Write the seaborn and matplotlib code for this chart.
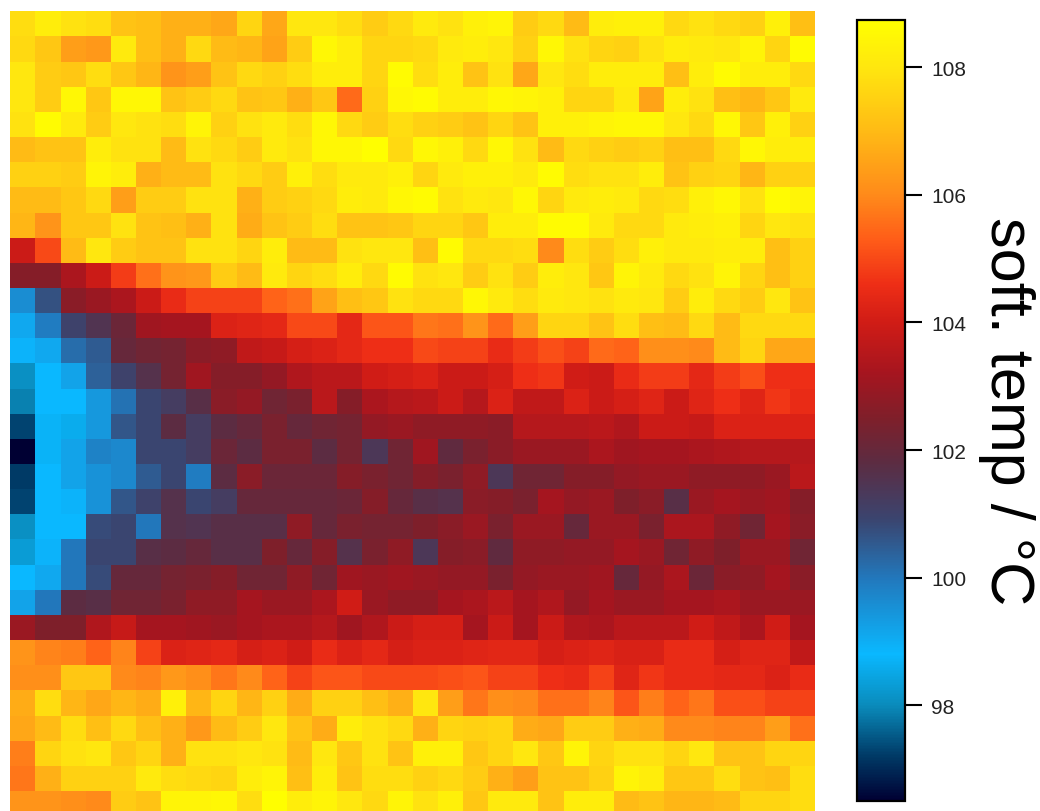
import numpy as np
import seaborn as sns
import matplotlib
matplotlib.use("Agg")
import matplotlib.pyplot as plt
from matplotlib.colors import LinearSegmentedColormap

# soft. temp readings, top row first
row_00 = [107.8,108.2,107.9,107.8,107.2,107.1,106.8,106.8,106.6,107.6,106.6,108.0,108.0,107.8,107.4,107.7,108.1,107.9,108.3,108.4,107.4,107.7,107.0,108.2,108.3,108.3,107.7,107.9,107.7,107.5,108.3,107.1]
row_01 = [107.7,107.3,106.4,106.3,108.1,107.1,106.8,107.7,107.0,106.9,106.5,107.4,108.5,108.2,107.6,107.6,107.7,108.1,108.2,108.0,107.5,108.5,107.9,107.6,107.5,107.9,108.2,108.1,108.0,108.4,107.6,108.6]
row_02 = [108.0,107.4,107.3,107.8,107.3,106.9,106.2,106.4,107.2,107.7,107.5,107.8,108.2,108.2,107.6,108.6,107.8,108.2,107.2,107.9,106.6,108.0,107.8,108.2,108.2,108.2,107.1,108.2,108.6,108.2,108.2,107.7]
row_03 = [108.0,107.4,108.5,107.3,108.5,108.5,107.2,107.4,107.7,107.2,107.3,106.8,107.3,105.5,107.5,108.5,108.6,108.2,108.2,108.5,108.4,108.3,107.6,107.6,108.1,106.5,108.2,107.9,107.1,106.9,107.3,108.1]
row_04 = [107.9,108.6,108.1,107.4,108.0,107.9,107.8,108.4,107.5,107.9,108.1,107.8,108.5,107.7,107.4,107.8,107.5,107.4,107.2,107.6,107.2,108.3,108.3,108.4,108.5,108.5,108.0,107.7,108.5,107.3,108.3,107.5]
row_05 = [107.0,107.2,107.2,108.2,107.9,107.9,107.0,107.9,107.7,107.4,108.1,107.9,108.5,108.5,108.7,107.7,108.5,108.3,107.7,108.5,107.9,107.0,107.7,107.5,107.4,107.5,107.1,107.1,107.7,108.5,108.2,108.2]
row_06 = [107.5,107.5,107.4,108.4,108.2,106.8,107.0,107.0,107.9,107.7,107.4,108.3,107.8,108.1,108.1,108.3,107.6,108.1,108.3,108.3,108.1,108.6,107.8,107.9,107.9,108.2,107.2,107.5,107.6,106.9,107.5,107.5]
row_07 = [107.0,107.0,107.3,107.7,106.4,107.4,107.4,107.9,107.9,106.8,107.4,107.5,107.7,108.2,108.1,108.5,108.6,107.9,108.1,108.0,108.5,107.6,108.1,108.2,108.1,107.7,107.8,108.3,108.5,107.9,108.6,108.4]
row_08 = [106.9,106.2,107.3,107.3,107.9,107.2,107.1,106.8,107.9,106.7,107.2,107.4,107.8,107.2,107.2,107.3,107.6,107.6,107.3,108.2,108.2,108.6,108.6,108.1,107.7,107.7,108.1,108.2,108.3,107.6,108.0,107.9]
row_09 = [103.9,105.0,107.0,108.0,107.4,107.2,107.2,107.9,107.9,107.6,108.2,107.0,107.0,107.9,108.0,108.0,107.1,108.6,107.7,107.7,107.8,106.0,107.8,107.4,107.8,108.3,108.1,108.1,108.2,108.2,107.1,107.5]
row_10 = [102.6,102.6,103.3,103.9,104.8,105.6,106.2,106.3,107.4,107.0,108.1,107.6,107.8,108.2,107.7,108.6,107.9,108.0,107.4,107.9,107.4,108.2,108.0,107.3,108.4,108.1,107.7,107.9,108.4,107.6,107.1,107.5]
row_11 = [99.6,100.7,102.7,103.0,103.3,103.9,104.5,104.9,104.9,104.9,105.4,105.6,106.5,107.1,107.3,107.9,107.7,107.7,108.5,108.1,107.8,108.1,108.0,107.9,108.1,108.0,107.4,108.2,107.7,107.4,108.0,107.2]
row_12 = [99.1,99.9,101.0,101.5,102.1,103.1,103.2,103.2,104.2,104.3,104.4,105.0,105.0,104.4,105.2,105.2,105.7,105.6,106.2,105.5,106.4,107.6,107.6,107.2,107.8,107.1,107.0,107.7,107.0,107.7,107.7,107.7]
row_13 = [98.9,99.1,100.2,100.5,102.0,102.2,102.3,102.7,102.8,103.7,103.8,104.1,104.2,104.4,104.6,104.6,105.0,104.9,104.9,104.5,104.8,105.1,104.9,105.5,105.4,106.1,106.1,106.0,107.0,107.6,106.6,106.6]
row_14 = [98.1,98.8,99.2,100.4,101.0,101.6,102.3,103.1,102.6,102.6,102.9,103.4,103.6,103.6,104.0,104.1,104.2,103.9,103.9,104.1,104.6,104.7,104.0,103.9,104.5,104.8,104.8,104.4,104.8,105.1,104.6,104.6]
row_15 = [97.9,98.8,98.8,99.4,100.1,100.9,101.2,101.7,102.7,102.9,102.2,102.4,103.6,102.6,103.3,103.5,103.6,103.9,103.5,104.2,103.7,103.7,104.2,103.9,104.1,104.3,103.9,104.3,104.6,104.3,104.7,104.5]
row_16 = [97.3,98.7,98.6,99.4,100.6,100.9,101.8,101.2,101.8,102.0,102.4,102.0,102.2,102.3,102.9,103.0,102.8,102.8,102.8,102.7,103.5,103.5,103.5,103.6,103.4,103.9,103.9,103.8,104.2,104.2,104.2,104.2]
row_17 = [96.5,98.7,99.2,99.8,99.7,100.9,100.9,101.2,102.1,101.8,102.4,102.4,101.8,102.3,101.4,102.2,103.1,101.9,102.4,102.7,103.0,103.0,103.0,103.3,103.1,103.2,103.2,103.3,103.4,103.5,103.5,103.5]
row_18 = [97.2,98.8,99.2,99.5,99.7,100.5,100.9,99.9,101.8,102.7,102.1,102.1,102.1,102.6,102.4,102.2,102.6,102.4,102.8,101.4,102.2,102.2,102.6,102.6,102.9,103.0,103.0,102.8,102.8,102.8,103.0,103.6]
row_19 = [97.3,98.8,98.9,99.5,100.6,101.0,101.6,100.9,101.2,102.0,102.0,102.0,102.0,102.1,102.6,102.0,101.7,101.6,102.7,102.6,102.4,103.2,102.9,103.0,102.5,102.7,101.7,103.0,103.2,103.0,103.1,102.6]
row_20 = [98.1,98.8,98.8,100.8,100.9,100.0,101.6,101.5,101.7,101.7,101.7,102.8,102.0,102.4,102.3,102.3,102.5,102.7,103.0,102.4,103.0,103.0,102.0,103.0,103.0,102.4,103.3,103.3,102.8,102.2,103.2,102.7]
row_21 = [98.3,98.9,100.0,100.9,100.9,101.7,101.8,102.0,101.7,101.7,102.5,102.0,102.6,101.6,102.4,102.8,101.4,102.6,102.7,101.9,102.8,102.8,102.9,102.9,103.2,103.0,102.2,102.8,102.5,103.0,103.0,102.2]
row_22 = [98.8,99.1,100.0,100.8,102.0,102.0,102.3,102.4,102.6,102.2,102.2,102.8,102.2,103.1,103.0,103.1,103.0,102.9,102.9,102.4,102.9,103.0,103.0,103.1,102.0,102.9,103.3,102.1,102.7,102.8,103.2,102.7]
row_23 = [99.2,100.0,101.8,101.7,102.2,102.2,102.4,102.8,102.8,103.2,103.0,103.0,103.3,104.0,103.0,102.8,102.8,103.2,103.3,103.6,103.2,103.4,102.9,103.2,103.0,103.0,103.2,103.2,103.3,103.0,103.0,103.0]
row_24 = [103.0,102.5,102.5,103.4,103.8,103.2,103.2,103.1,103.0,103.2,103.3,103.3,103.5,103.1,103.4,103.9,104.1,104.1,103.2,103.9,103.2,103.9,103.4,103.3,103.6,103.6,103.6,104.0,103.7,103.3,104.0,103.2]
row_25 = [106.2,105.9,105.8,105.4,105.9,104.9,104.2,104.3,104.4,104.1,104.2,104.0,104.5,104.2,104.4,104.1,104.2,104.2,104.3,104.35,104.35,104.1,104.2,104.3,104.15,104.15,104.5,104.5,104.1,104.3,104.3,103.7]
row_26 = [106.1,106.1,107.3,107.3,106.0,105.9,106.3,106.1,105.7,106.0,105.4,104.9,105.2,105.2,105.0,105.0,105.0,105.1,105.2,104.9,104.9,104.6,104.5,104.9,104.3,104.7,104.5,104.5,104.4,104.4,104.2,104.5]
row_27 = [106.7,107.8,106.9,106.6,106.9,106.7,108.3,106.9,107.6,106.9,107.5,106.7,107.5,107.5,107.1,106.8,108.0,106.4,105.7,106.1,106.0,105.6,105.6,105.9,105.2,105.8,105.4,105.7,105.1,105.1,104.9,104.9]
row_28 = [106.6,107.0,107.8,107.1,107.7,107.1,106.8,106.3,107.0,107.4,108.0,107.2,106.7,108.2,107.9,107.7,106.8,107.6,107.5,107.6,106.7,106.6,107.4,107.4,106.8,106.7,106.0,106.0,105.9,105.9,106.4,105.6]
row_29 = [105.8,107.6,107.9,108.0,107.3,107.6,106.8,107.9,107.9,108.0,107.9,107.0,108.0,107.3,107.9,107.2,108.3,108.3,107.3,107.6,108.0,107.3,108.4,107.6,107.9,107.9,107.6,108.0,107.2,107.2,107.6,107.6]
row_30 = [105.7,106.8,107.5,107.5,107.5,108.1,107.8,107.7,107.6,108.2,108.4,107.1,108.2,107.2,107.8,107.8,107.5,107.7,107.4,106.8,106.4,107.2,107.2,107.5,108.4,108.2,107.3,107.3,107.8,107.2,107.1,107.8]
row_31 = [106.2,106.2,106.1,106.0,107.4,107.2,108.4,108.4,108.5,107.8,108.7,108.2,108.4,108.0,107.7,108.4,107.9,108.3,107.3,108.1,108.1,107.2,108.2,108.2,107.0,107.2,106.9,106.9,107.0,107.6,107.6,107.8]

soft_temp = [row_00, row_01, row_02, row_03, row_04, row_05, row_06, row_07,
             row_08, row_09, row_10, row_11, row_12, row_13, row_14, row_15,
             row_16, row_17, row_18, row_19, row_20, row_21, row_22, row_23,
             row_24, row_25, row_26, row_27, row_28, row_29, row_30, row_31]

cbar_ticks = [98, 100, 102, 104, 106, 108]
vmin, vmax = 96.5, 108.74

# colour stops picked off the colorbar
stop_values = [96.5, 97.2, 98.0, 98.8, 100.0, 100.9, 101.8, 102.5, 103.2, 104.0, 104.6, 105.3, 106.0, 107.0, 108.0, 108.74]
stop_colors = ['#000033', '#003a66', '#0a8cbc', '#0ab8ff', '#2277bb', '#3a4570', '#5c2c42', '#7f1f2a',
               '#a5151f', '#d01c16', '#ee2e16', '#ff5c18', '#ff8a1a', '#ffba15', '#ffe60f', '#ffff00']
stops = [(v - vmin) / (vmax - vmin) for v in stop_values]
cmap = LinearSegmentedColormap.from_list('soft_temp', list(zip(stops, stop_colors)), N=512)

sns.set_theme(style='white')
plt.rcParams['font.family'] = ['Liberation Sans', 'DejaVu Sans']

W, H = 1040, 812
fig = plt.figure(figsize=(W / 100, H / 100), dpi=100, facecolor='white')
ax = fig.add_axes([10.3 / W, 1 - 817.1 / H, 804.7 / W, 804.8 / H])
cax = fig.add_axes([857 / W, 1 - 802 / H, 48 / W, 781 / H])

sns.heatmap(np.array(soft_temp), ax=ax, cbar_ax=cax, cmap=cmap, vmin=vmin, vmax=vmax,
            xticklabels=False, yticklabels=False, square=False, linewidths=0,
            cbar_kws={'ticks': cbar_ticks})

cbar = ax.collections[0].colorbar
cbar.outline.set_visible(True)
cbar.outline.set_edgecolor('black')
cbar.outline.set_linewidth(1.6)
cax.tick_params(axis='y', right=True, length=12, width=1.5, color='black',
                labelsize=15, labelcolor='#222222', pad=7)

# label sits on its own, clear of the tick labels
fig.text(1006 / W, 1 - 411 / H, 'soft. temp / °C', rotation=270, fontsize=44,
         color='black', ha='center', va='center')

fig.savefig('out.png', dpi=100, facecolor='white')
